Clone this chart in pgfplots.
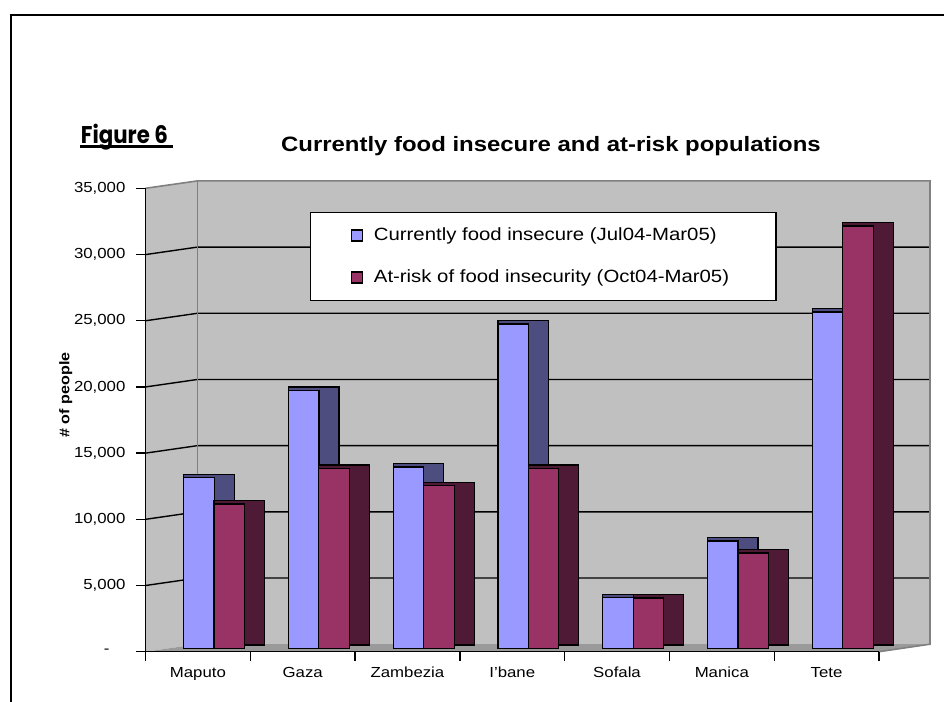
\documentclass[border=0pt]{standalone}
\usepackage{pgfplots}
\pgfplotsset{compat=1.18}
\usepackage{pgfplotstable}
\usepackage{fontspec}
\setmainfont{Liberation Sans}[FakeStretch=1.15]
\newfontfamily\figfont{Poppins}[FakeStretch=0.88]
\definecolor{wall}{HTML}{C0C0C0}
\definecolor{floorc}{HTML}{9A9A9A}
\definecolor{edge}{HTML}{808080}
\definecolor{bluef}{HTML}{9999FF}
\definecolor{blues}{HTML}{4D4D80}
\definecolor{redf}{HTML}{993366}
\definecolor{reds}{HTML}{4F1A36}
\pgfplotstableread{
x blue red
0 12900 10900
1 19500 13600
2 13700 12300
3 24500 13600
4 3850 3800
5 8100 7200
6 25400 31900
}\datatab
\begin{document}
\begin{tikzpicture}
\begin{scope}[x=0.5pt, y=-0.5pt, shift={(-145.5,-651.7)}]
  % outer frame
  \draw[black, line width=1.25pt] (11,702) -- (11,15) -- (944,15);
  % figure label
  \node[anchor=base west, inner sep=0pt, font=\figfont\bfseries\fontsize{12.1}{14}\selectfont] at (80.5,143.3) {Figure 6};
  \draw[black, line width=1.5pt] (80.5,147) -- (173,147);
  % walls
  \fill[wall] (145.5,188.3) -- (197.5,180.9) -- (197.5,644.2) -- (145.5,651.7) -- cycle;
  \fill[wall] (197.5,180.9) rectangle (930,644.2);
  \fill[floorc] (145.5,651.7) -- (197.5,644.2) -- (930,644.2) -- (879,651.7) -- cycle;
  \foreach \v in {5,10,...,30}
    \draw[black, line width=0.7pt] (145.5,{651.7-13.237*\v}) -- (197.5,{644.2-13.237*\v}) -- (930,{644.2-13.237*\v});
  \draw[edge, line width=0.8pt] (145.5,188.3) -- (197.5,180.9) -- (930,180.9) -- (930,644.2) -- (879,651.7);
  \draw[edge, line width=0.8pt] (197.5,180.9) -- (197.5,644.2);
\end{scope}
\begin{axis}[
  at={(0,0)}, anchor=south west,
  scale only axis, width=366.75pt, height=231.7pt,
  xmin=-0.5, xmax=6.5, ymin=0, ymax=35000,
  clip=false,
  scaled y ticks=false,
  axis x line*=bottom, axis y line*=left,
  axis line style={black, line width=0.7pt, -},
  tick style={black, line width=0.7pt},
  tick align=outside,
  major tick length=4.5pt,
  tick label style={font=\fontsize{7.3}{8.5}\selectfont},
  xtick={-0.5,0.5,1.5,2.5,3.5,4.5,5.5,6.5}, xticklabels={},
  extra x ticks={0,1,2,3,4,5,6},
  extra x tick labels={Maputo,Gaza,Zambezia,I'bane,Sofala,Manica,Tete},
  extra x tick style={major tick length=0pt, xticklabel style={anchor=base, yshift=-13pt}},
  ytick={0,5000,10000,15000,20000,25000,30000,35000},
  yticklabels={{-\hspace{8pt}\mbox{}},{5,000},{10,000},{15,000},{20,000},{25,000},{30,000},{35,000}},
  yticklabel style={xshift=-2pt},
  title={Currently food insecure and at-risk populations},
  title style={at={(0.5528,1.0826)}, anchor=base, yshift=-6.5pt, font=\bfseries\fontsize{10.4}{12}\selectfont},
  ylabel={\# of people},
  ylabel style={at={(-0.1088,0.554)}, anchor=center, font=\bfseries\fontsize{7}{8}\selectfont},
  legend style={at={(0.2243,0.9489)}, anchor=north west, draw=black, line width=0.7pt, fill=white,
    inner xsep=20pt, inner ysep=7.5pt, row sep=13pt, nodes={inner sep=0pt},
    /tikz/column sep=5.5pt, font=\fontsize{8.85}{10}\selectfont},
  legend cell align=left,
]
\addplot[ybar, bar width=25.25pt, bar shift=5.5pt, yshift=3.3pt, fill=blues, draw=black, line width=0.6pt, forget plot] table[x=x,y=blue]{\datatab};
\addplot[ybar, bar width=15.25pt, bar shift=0.5pt, yshift=1.7pt, fill=bluef, draw=black, line width=0.6pt, forget plot] table[x=x,y=blue]{\datatab};
\addplot[ybar, bar width=25.25pt, bar shift=20.7pt, yshift=3.3pt, fill=reds, draw=black, line width=0.6pt, forget plot] table[x=x,y=red]{\datatab};
\addplot[ybar, bar width=15.25pt, bar shift=15.7pt, yshift=1.7pt, fill=redf, draw=black, line width=0.6pt, forget plot] table[x=x,y=red]{\datatab};
\addlegendimage{legend image code/.code={\draw[fill=bluef, draw=black, line width=0.6pt] (0pt,-2.75pt) rectangle (5.5pt,2.75pt);}}
\addlegendentry{\makebox[181pt][l]{Currently food insecure (Jul04-Mar05)}}
\addlegendimage{legend image code/.code={\draw[fill=redf, draw=black, line width=0.6pt] (0pt,-2.75pt) rectangle (5.5pt,2.75pt);}}
\addlegendentry{\makebox[181pt][l]{At-risk of food insecurity (Oct04-Mar05)}}
\end{axis}
\begin{scope}[x=0.5pt, y=-0.5pt, shift={(-145.5,-651.7)}]
  \pgfresetboundingbox
  \path[use as bounding box] (0,0) rectangle (944,702);
\end{scope}
\end{tikzpicture}
\end{document}
